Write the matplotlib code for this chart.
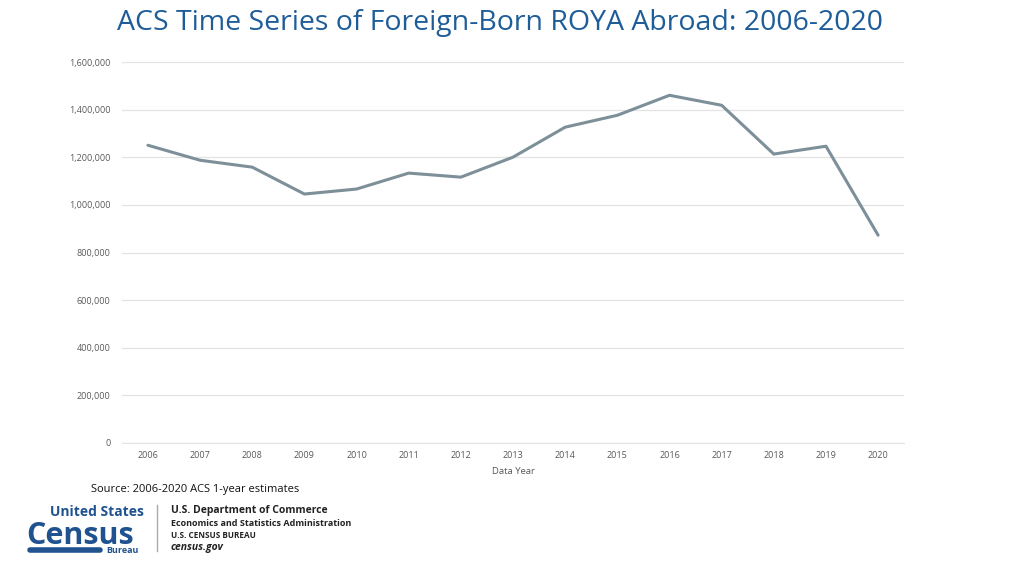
import matplotlib.pyplot as plt
from matplotlib.ticker import FuncFormatter

# data
years = ['2006', '2007', '2008', '2009', '2010', '2011', '2012', '2013',
         '2014', '2015', '2016', '2017', '2018', '2019', '2020']
roya_abroad = [1251000, 1188000, 1159000, 1046000, 1067000, 1134000, 1117000, 1201000,
               1327000, 1377000, 1461000, 1419000, 1214000, 1247000, 873000]

plt.rcParams['font.family'] = ['Open Sans', 'DejaVu Sans']

fig = plt.figure(figsize=(10.24, 5.76), dpi=100)
ax = fig.add_axes([0.119, 0.231, 0.764, 0.661])

x = range(len(years))
ax.plot(x, roya_abroad, color='#7d8f98', linewidth=2.2, solid_capstyle='round')

ax.set_xlim(-0.5, len(years) - 0.5)
ax.set_ylim(0, 1600000)
ax.set_yticks(range(0, 1600001, 200000))
ax.yaxis.set_major_formatter(FuncFormatter(lambda v, p: f'{int(v):,}'))
ax.set_xticks(list(x))
ax.set_xticklabels(years)
ax.grid(axis='y', color='#e3e3e3', linewidth=0.9)
ax.set_axisbelow(True)
for s in ['top', 'right', 'left']:
    ax.spines[s].set_visible(False)
ax.spines['bottom'].set_color('#e3e3e3')
ax.tick_params(length=0, labelsize=6.5, labelcolor='#595959')
ax.tick_params(axis='x', pad=6)
ax.tick_params(axis='y', pad=8)
ax.set_xlabel('Data Year', fontsize=6.8, color='#595959', labelpad=5)

fig.text(0.488, 0.960, 'ACS Time Series of Foreign-Born ROYA Abroad: 2006-2020',
         ha='center', va='center', fontsize=20.5, color='#1f5d99')

fig.text(0.089, 0.151, 'Source: 2006-2020 ACS 1-year estimates',
         ha='left', va='center', fontsize=8, color='#111111')

# Census Bureau logo, as text
blue = '#20528f'
fig.text(0.049, 0.104, 'United States', fontsize=10, fontweight='bold', color=blue,
         va='baseline')
fig.text(0.026, 0.056, 'Census', fontsize=22, fontweight='bold', color=blue, va='baseline')
fig.text(0.1035, 0.040, 'Bureau', fontsize=6.5, fontweight='bold', color=blue, va='baseline')
fig.add_artist(plt.Line2D([0.029, 0.098], [0.046, 0.046], color=blue, linewidth=4,
                          solid_capstyle='round'))
fig.add_artist(plt.Line2D([0.153, 0.153], [0.043, 0.123], color='#aaaaaa', linewidth=1))
fig.text(0.167, 0.113, 'U.S. Department of Commerce', fontsize=7.5, fontweight='bold',
         color='#222222', va='center')
fig.text(0.167, 0.092, 'Economics and Statistics Administration', fontsize=6.5,
         fontweight='bold', color='#222222', va='center')
fig.text(0.167, 0.071, 'U.S. CENSUS BUREAU', fontsize=5.9, fontweight='bold',
         color='#222222', va='center')
fig.text(0.167, 0.050, 'census.gov', fontsize=7.5, fontweight='bold', style='italic',
         color='#222222', va='center')

fig.savefig('out.png', dpi=100)
